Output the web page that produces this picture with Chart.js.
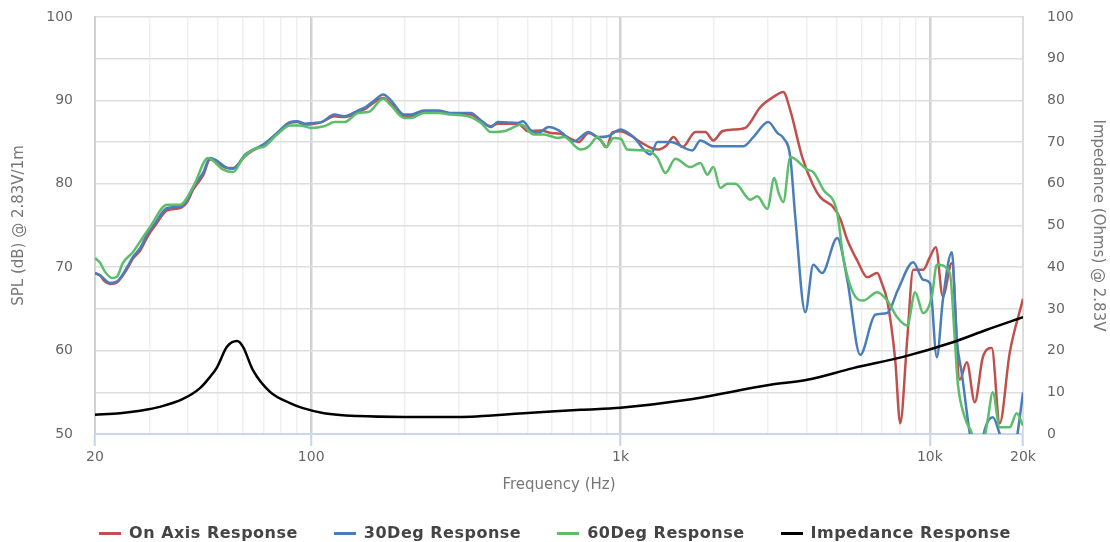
<!DOCTYPE html>
<html>
<head>
<meta charset="utf-8">
<title>Frequency response</title>
<script src="https://cdn.jsdelivr.net/npm/chart.js@4.4.1/dist/chart.umd.min.js"></script>
<style>
  html, body { margin: 0; padding: 0; background: #fff; }
  #wrap { position: relative; width: 1110px; height: 542px; overflow: hidden; }
  #legend {
    position: absolute; left: 0; right: 0; top: 523px;
    display: flex; justify-content: center; gap: 36px;
    font: bold 16px "DejaVu Sans", sans-serif; line-height: 20px;
    color: #444; letter-spacing: 0.5px;
  }
  .item { display: flex; align-items: center; white-space: nowrap; }
  .swatch { width: 22px; height: 3px; margin-right: 8px; }
</style>
</head>
<body>
<div id="wrap">
  <canvas id="chart"></canvas>
  <div id="legend"></div>
</div>
<script>
// values
const onAxisHz = [20, 20.8, 21.5, 22.4, 23.6, 25.4, 26.5, 28, 29.7, 31.3, 34.2, 37.7, 39.7, 41.5, 44.7, 47.1, 48.9, 53.4, 55.9, 61.1,
  64.8, 69.9, 77.5, 85.4, 90, 95.5, 102, 108, 119, 128, 142, 150, 160, 171, 181, 200, 210, 232, 257, 283,
  328, 354, 381, 401, 466, 502, 553, 595, 641, 691, 732, 788, 864, 901, 942, 1000, 1077, 1160, 1316, 1407,
  1483, 1585, 1746, 1880, 1995, 2133, 2315, 2531, 2831, 3118, 3358, 3538, 3866, 4198, 4422, 4871, 5131, 5406, 5823, 6272,
  6757, 7003, 7279, 7725, 8017, 8446, 8831, 9513, 10000, 10450, 11010, 11780, 12490, 13160, 13970, 14830, 15850, 16820, 18110, 20000];
const onAxisDb = [69.3, 69.0, 68.3, 68.0, 68.2, 69.8, 71.0, 72.0, 73.8, 75.0, 76.8, 77.1, 77.8, 79.3, 81.0, 82.9, 82.7, 81.9, 81.9, 83.3,
  84.0, 84.6, 86.0, 87.3, 87.4, 87.1, 87.2, 87.4, 88.1, 88.0, 88.6, 89.0, 89.8, 90.3, 89.6, 88.1, 88.1, 88.7, 88.7, 88.4,
  88.3, 87.5, 86.9, 87.2, 87.2, 86.3, 86.4, 86.1, 86.0, 85.4, 85.0, 86.1, 85.2, 84.4, 86.2, 86.3, 85.8, 85.0, 84.1, 84.6,
  85.6, 84.4, 86.2, 86.2, 85.2, 86.3, 86.5, 86.7, 89.2, 90.4, 91.0, 88.8, 83.2, 79.8, 78.4, 77.2, 75.8, 73.3, 70.8, 68.8,
  69.3, 68.0, 66.0, 58.9, 51.3, 61.3, 69.7, 69.7, 71.2, 72.4, 66.5, 70.5, 56.5, 58.6, 53.8, 59.2, 60.3, 51.3, 59.7, 66.2];

const deg30Hz = [20, 20.8, 22.4, 23.6, 25.4, 26.5, 28, 29.7, 31.3, 34.2, 37.7, 39.7, 41.5, 44.7, 47.1, 48.9, 53.4, 55.9, 61.1, 64.8,
  69.9, 77.5, 85.4, 90, 95.5, 102, 108, 119, 128, 142, 150, 160, 171, 181, 200, 210, 232, 257, 283, 328,
  354, 381, 401, 466, 483, 513, 541, 586, 631, 707, 788, 845, 910, 1000, 1101, 1249, 1316, 1450, 1707, 1811,
  1995, 2494, 2687, 3002, 3213, 3358, 3538, 3672, 3955, 4198, 4484, 5018, 5406, 5954, 6657, 7279, 7885, 8831, 9513, 10000,
  10530, 11010, 11780, 12220, 12680, 13460, 14290, 15040, 15970, 16820, 17860, 19080, 20000];
const deg30Db = [69.3, 69.0, 68.1, 68.3, 70.0, 71.2, 72.3, 74.2, 75.3, 77.1, 77.3, 78.0, 79.6, 81.3, 83.1, 82.9, 81.9, 81.8, 83.5, 84.1,
  84.7, 86.1, 87.4, 87.5, 87.2, 87.3, 87.4, 88.3, 88.1, 88.8, 89.2, 90.0, 90.7, 90.0, 88.3, 88.3, 88.8, 88.8, 88.5, 88.5,
  87.6, 86.8, 87.4, 87.3, 87.5, 86.4, 86.1, 86.8, 86.4, 85.1, 86.2, 85.6, 85.7, 86.5, 85.6, 83.5, 85.0, 85.0, 84.0, 85.2,
  84.5, 84.5, 85.6, 87.4, 86.1, 85.5, 83.2, 76.0, 64.6, 70.3, 69.3, 73.5, 68.5, 59.5, 64.3, 64.5, 67.3, 70.6, 68.5, 68.1,
  59.2, 66.0, 71.8, 61.3, 57.3, 50.1, 46.0, 50.5, 52.0, 50.0, 47.0, 49.5, 55.0];

const deg60Hz = [20, 20.8, 21.5, 22.7, 23.6, 24.6, 26.5, 28.6, 30.1, 34.2, 37.7, 41.5, 46.4, 51.9, 55.9, 60.2, 66.8, 69.9, 77.5, 85.4,
  91.8, 100, 110, 119, 128, 142, 153, 171, 181, 200, 210, 232, 257, 283, 328, 354, 381, 420, 452, 476,
  525, 565, 627, 656, 744, 784, 845, 896, 951, 1000, 1053, 1222, 1316, 1397, 1504, 1682, 1811, 1908, 1995, 2101,
  2214, 2350, 2627, 2768, 2982, 3140, 3245, 3358, 3538, 4015, 4198, 4522, 5018, 5247, 5652, 6088, 6757, 7279, 7841, 8446,
  8964, 9513, 10150, 10530, 11600, 12040, 12310, 12970, 13660, 14500, 15380, 15970, 16820, 18110, 19080, 20000];
const deg60Db = [71.1, 70.5, 69.5, 68.7, 68.9, 70.5, 71.8, 73.6, 74.8, 77.5, 77.5, 79.6, 83.1, 81.7, 81.4, 83.1, 84.3, 84.4, 85.9, 87.0,
  87.0, 86.7, 86.9, 87.4, 87.4, 88.5, 88.6, 90.2, 89.4, 87.9, 87.9, 88.5, 88.5, 88.3, 88.0, 87.3, 86.2, 86.3, 86.8, 87.1,
  85.9, 85.9, 85.5, 85.6, 84.1, 84.4, 85.6, 84.4, 85.5, 85.4, 84.1, 84.0, 83.1, 81.3, 83.0, 82.0, 82.5, 81.1, 82.0, 79.5,
  80.0, 80.0, 78.1, 78.5, 77.0, 80.7, 78.9, 77.8, 83.2, 81.7, 81.4, 79.3, 76.5, 71.2, 66.9, 66.0, 67.0, 66.0, 64.0, 63.0,
  67.0, 64.5, 66.5, 70.3, 69.3, 61.3, 56.1, 52.0, 50.1, 47.0, 51.7, 55.0, 50.8, 50.8, 52.5, 51.0];

const impedanceHz = [20, 24.1, 28, 32.4, 38.5, 43.7, 47.1, 49.6, 53.4, 57.6, 60.2, 64.8, 73.6, 85.4, 94.1,
  110, 142, 200, 298, 487, 744, 1000, 1645, 3050, 4015, 5652, 8198, 11860, 15270, 20000];
const impedanceOhm = [4.6, 5.0, 5.6, 6.5, 8.4, 11.0, 13.7, 16.0, 20.9, 22.3, 20.9, 15.3, 10.1, 7.4, 6.2,
  5.0, 4.3, 4.1, 4.1, 5.0, 5.8, 6.3, 8.2, 11.8, 13.0, 15.8, 18.5, 22.0, 25.0, 28.0];

// x grid lines and the few that get a label
const gridHz = [20, 30, 40, 50, 60, 70, 80, 90, 100, 200, 300, 400, 500, 600, 700, 800, 900,
  1000, 2000, 3000, 4000, 5000, 6000, 7000, 8000, 9000, 10000, 20000];
const labeledHz = [20, 100, 1000, 10000, 20000];
const tickLabels = ['20', '100', '1k', '10k', '20k'];
const majorHz = [100, 1000, 10000];

function pts(xs, ys){ return xs.map((x, i) => ({ x: x, y: ys[i] })); }

// fixed box sizes so the plot lands where the original one is
function fixWidth(w){
  return s => { s.width = w; s.paddingTop = 0; s.paddingBottom = 0; };
}

Chart.defaults.font.family = '"DejaVu Sans", sans-serif';
Chart.defaults.color = '#666';

const line = {
  pointRadius: 0, pointHoverRadius: 0, borderWidth: 2.5,
  cubicInterpolationMode: 'monotone', fill: false
};

const chart = new Chart(document.getElementById('chart'), {
  type: 'line',
  data: {
    datasets: [
      Object.assign({ label: 'On Axis Response', data: pts(onAxisHz, onAxisDb), borderColor: '#c0504d', yAxisID: 'y', order: 3 }, line),
      Object.assign({ label: '30Deg Response', data: pts(deg30Hz, deg30Db), borderColor: '#4a7ebb', yAxisID: 'y', order: 2 }, line),
      Object.assign({ label: '60Deg Response', data: pts(deg60Hz, deg60Db), borderColor: '#5cbd6a', yAxisID: 'y', order: 1 }, line),
      Object.assign({ label: 'Impedance Response', data: pts(impedanceHz, impedanceOhm), borderColor: '#000000', yAxisID: 'y2', order: 0 }, line)
    ]
  },
  options: {
    responsive: true,
    maintainAspectRatio: false,
    animation: false,
    layout: { autoPadding: false, padding: { top: 17, bottom: 48, left: 0, right: 0 } },
    plugins: { legend: { display: false }, tooltip: { enabled: false } },
    scales: {
      x: {
        type: 'logarithmic',
        min: 20, max: 20000,
        afterBuildTicks: s => { s.ticks = gridHz.map(v => ({ value: v })); },
        afterFit: s => { s.height = 60; },
        ticks: {
          autoSkip: false, maxRotation: 0, padding: 3,
          font: { size: 14 }, color: '#666',
          callback: v => { const i = labeledHz.indexOf(v); return i < 0 ? '' : tickLabels[i]; }
        },
        grid: {
          color: c => {
            const v = c.tick && c.tick.value;
            if (majorHz.includes(v)) return '#d2d2d2';
            if (v === 20 || v === 20000) return '#d6d6d6';
            return '#efefef';
          },
          lineWidth: c => (majorHz.includes(c.tick && c.tick.value) ? 2.5 : 1.5),
          tickColor: c => (labeledHz.includes(c.tick && c.tick.value) ? '#c4d4ea' : 'rgba(0,0,0,0)'),
          tickLength: 12,
          tickWidth: 2
        },
        border: { color: '#c8d7eb', width: 2 },
        title: { display: true, text: 'Frequency (Hz)', font: { size: 15 }, color: '#777', padding: { top: 0, bottom: 0 } }
      },
      y: {
        position: 'left',
        min: 50, max: 100,
        afterFit: fixWidth(95),
        ticks: { stepSize: 10, padding: 22, font: { size: 14 }, color: '#666' },
        grid: { display: false, drawTicks: false },
        border: { color: '#d0d0d0', width: 2 },
        title: { display: true, text: 'SPL (dB) @ 2.83V/1m', font: { size: 15 }, color: '#777', padding: { top: 10, bottom: 0 } }
      },
      y2: {
        position: 'right',
        min: 0, max: 100,
        afterFit: fixWidth(87),
        ticks: { stepSize: 10, padding: 24, font: { size: 14 }, color: '#666' },
        grid: { color: '#dedede', lineWidth: 1.5, drawTicks: false },
        border: { color: '#dcdcdc', width: 2 },
        title: { display: true, text: 'Impedance (Ohms) @ 2.83V', font: { size: 15 }, color: '#777', padding: { top: 3, bottom: 0 } }
      }
    }
  }
});

// legend as html, built from the chart's datasets
const legendEl = document.getElementById('legend');
chart.data.datasets.forEach(ds => {
  const item = document.createElement('div');
  item.className = 'item';
  item.innerHTML = '<span class="swatch" style="background:' + ds.borderColor + '"></span><span>' + ds.label + '</span>';
  legendEl.appendChild(item);
});
</script>
</body>
</html>
